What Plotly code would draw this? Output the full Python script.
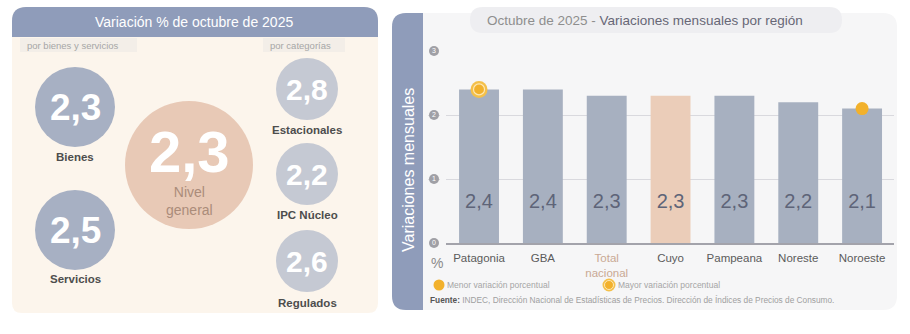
import plotly.graph_objects as go

W, H = 910, 334
FONT = "Liberation Sans"

# ---------------- data ----------------
regions = ["Patagonia", "GBA", "Total nacional", "Cuyo", "Pampeana", "Noreste", "Noroeste"]
region_values = [2.4, 2.4, 2.3, 2.3, 2.3, 2.2, 2.1]
highlight_region = "Cuyo"
y_ticks = [0, 1, 2, 3]
y_tick_labels = ["0", "1", "2", "3"]

summary_labels = ["Nivel general", "Bienes", "Servicios", "Estacionales", "IPC Núcleo", "Regulados"]
summary_values = [2.3, 2.3, 2.5, 2.8, 2.2, 2.6]

# ---------------- helpers ----------------
def X(px):
    return px / W

def Y(py):
    return 1 - py / H

def fmt(v):
    return f"{v:.1f}".replace(".", ",")

def rrect(x0, y0, x1, y1, rtl, rtr, rbr, rbl):
    p = []
    p.append(f"M {X(x0 + rtl)},{Y(y0)}")
    p.append(f"L {X(x1 - rtr)},{Y(y0)}")
    p.append(f"Q {X(x1)},{Y(y0)} {X(x1)},{Y(y0 + rtr)}")
    p.append(f"L {X(x1)},{Y(y1 - rbr)}")
    p.append(f"Q {X(x1)},{Y(y1)} {X(x1 - rbr)},{Y(y1)}")
    p.append(f"L {X(x0 + rbl)},{Y(y1)}")
    p.append(f"Q {X(x0)},{Y(y1)} {X(x0)},{Y(y1 - rbl)}")
    p.append(f"L {X(x0)},{Y(y0 + rtl)}")
    p.append(f"Q {X(x0)},{Y(y0)} {X(x0 + rtl)},{Y(y0)} Z")
    return " ".join(p)

shapes = []
annotations = []

def add_rrect(x0, y0, x1, y1, r, color, rb=None, rl=True, rr=True):
    rb = r if rb is None else rb
    shapes.append(dict(type="path", xref="paper", yref="paper", layer="below",
                       path=rrect(x0, y0, x1, y1, r if rl else 0, r if rr else 0,
                                  rb if rr else 0, rb if rl else 0),
                       fillcolor=color, line=dict(width=0)))

def add_circle(cx, cy, r, color, layer="below"):
    shapes.append(dict(type="circle", xref="paper", yref="paper", layer=layer,
                       x0=X(cx - r), x1=X(cx + r), y0=Y(cy + r), y1=Y(cy - r),
                       fillcolor=color, line=dict(width=0)))

def add_text(x, y, text, size, color, bold=False, xanchor="center", angle=0):
    if bold:
        text = f"<b>{text}</b>"
    annotations.append(dict(xref="paper", yref="paper", x=X(x), y=Y(y), text=text,
                            showarrow=False, xanchor=xanchor, yanchor="middle",
                            textangle=angle,
                            font=dict(family=FONT, size=size, color=color)))

# ---------------- left panel ----------------
add_rrect(12, 7, 378, 313, 14, "#fcf5ec", rb=10)
add_rrect(12, 7, 378, 37, 14, "#8f9cba", rb=0)
add_text(194, 22, "Variación % de octubre de 2025", 14, "white")
add_rrect(20, 38, 137, 52, 0, "#f3eee8")
add_rrect(263, 38, 345, 52, 0, "#f3eee8")
add_text(25, 45.5, "por bienes y servicios", 9.5, "#a6a6a6", xanchor="left")
add_text(268, 45.5, "por categorías", 9.5, "#a6a6a6", xanchor="left")

# circle layout: (cx, cy, r, fill, number size, label y)
circle_layout = {
    "Nivel general": (189, 165, 64, "#e8c9b6", 58, None),
    "Bienes": (75, 107, 40, "#a7b0c3", 37, 157),
    "Servicios": (75, 230, 40, "#a7b0c3", 37, 279),
    "Estacionales": (307, 89, 31, "#c5c9d3", 30, 130),
    "IPC Núcleo": (307, 174, 31, "#c5c9d3", 30, 215),
    "Regulados": (307, 261, 31, "#c5c9d3", 30, 303),
}
for lab, val in zip(summary_labels, summary_values):
    cx, cy, r, col, fs, ly = circle_layout[lab]
    add_circle(cx, cy, r, col)
    if ly is None:
        add_text(cx, cy - 14, fmt(val), fs, "white", bold=True)
        add_text(cx, cy + 36, lab.replace(" ", "<br>"), 14, "#ab8c7a")
    else:
        add_text(cx, cy, fmt(val), fs, "white", bold=True)
        add_text(cx, ly, lab, 11.5, "#4d4d4d", bold=True)

# ---------------- right panel ----------------
add_rrect(392, 13, 897, 310, 14, "#f6f6f7")
add_rrect(392, 13, 423, 310, 14, "#8f9cba", rr=False)
add_rrect(470, 7, 842, 33, 13, "#eeeef1")
annotations.append(dict(xref="paper", yref="paper", x=X(645), y=Y(20), showarrow=False,
                        xanchor="center", yanchor="middle",
                        text="<span style='color:#8e8e8e'>Octubre de 2025 - </span>"
                             "<span style='color:#676776'>Variaciones mensuales por región</span>",
                        font=dict(family=FONT, size=13.5)))
add_text(408, 170, "Variaciones mensuales", 16, "white", angle=-90)
add_text(437, 263, "%", 14, "#8a8a8a")

# manual legend
add_circle(439, 285, 5.5, "#f2b12c", layer="above")
add_text(445, 285, "Menor variación porcentual", 8.5, "#a5a5a5", xanchor="left")
add_circle(609, 285, 6.5, "#f4c04a", layer="above")
shapes.append(dict(type="circle", xref="paper", yref="paper", layer="above",
                   x0=X(604.5), x1=X(613.5), y0=Y(289.5), y1=Y(280.5),
                   fillcolor="#f2b12c", line=dict(width=1, color="#fde7b4")))
add_text(616, 285, "Mayor variación porcentual", 8.5, "#a5a5a5", xanchor="left")
add_text(428, 300, "<span style='color:#555'><b>Fuente:</b></span> INDEC, Dirección Nacional de "
         "Estadísticas de Precios. Dirección de Índices de Precios de Consumo.",
         8.3, "#a0a0a0", xanchor="left")

# ---------------- bars ----------------
bar_colors = ["#ebcdb9" if r == highlight_region else "#a7b0c0" for r in regions]
fig = go.Figure()
fig.add_trace(go.Bar(x=regions, y=region_values, marker=dict(color=bar_colors, line=dict(width=0)),
                     hoverinfo="x+y", showlegend=False))

LABEL_Y = 0.62
fig.add_trace(go.Scatter(x=regions, y=[LABEL_Y] * len(regions), mode="text",
                         text=[fmt(v) for v in region_values],
                         textfont=dict(family=FONT, size=20, color="#5e6478"),
                         hoverinfo="skip", showlegend=False))

imax = region_values.index(max(region_values))
imin = len(region_values) - 1 - region_values[::-1].index(min(region_values))
fig.add_trace(go.Scatter(x=[regions[imax]], y=[region_values[imax]], mode="markers",
                         marker=dict(size=17, color="#f4c04a", line=dict(width=0)),
                         hoverinfo="skip", showlegend=False, cliponaxis=False))
fig.add_trace(go.Scatter(x=[regions[imax]], y=[region_values[imax]], mode="markers",
                         marker=dict(size=11, color="#f2b12c", line=dict(width=1.2, color="#fde7b4")),
                         name="Mayor variación porcentual", showlegend=False, cliponaxis=False))
fig.add_trace(go.Scatter(x=[regions[imin]], y=[region_values[imin]], mode="markers",
                         marker=dict(size=13, color="#f2b12c", line=dict(width=0)),
                         name="Menor variación porcentual", showlegend=False, cliponaxis=False))

# y tick badges: gray circles with white numbers, positioned by the y scale
fig.add_trace(go.Scatter(x=[6] * len(y_ticks), y=y_ticks, xaxis="x2", yaxis="y",
                         mode="markers+text", text=y_tick_labels, textposition="middle center",
                         textfont=dict(family=FONT, size=7, color="white"),
                         marker=dict(size=10, color="#a0a0a6", line=dict(width=0)),
                         cliponaxis=False, hoverinfo="skip", showlegend=False))

ticktext = []
for r in regions:
    if r == "Total nacional":
        ticktext.append("<span style='color:#c9a994'>Total</span><br>"
                        "<span style='color:#c9a994'>nacional</span>")
    else:
        ticktext.append(r)

TOP = 3.005
fig.update_layout(
    width=W, height=H,
    margin=dict(l=0, r=0, t=0, b=0),
    paper_bgcolor="white",
    plot_bgcolor="rgba(0,0,0,0)",
    bargap=0.375,
    showlegend=False,
    font=dict(family=FONT),
    xaxis=dict(domain=[X(446), X(894)], tickmode="array", tickvals=regions, ticktext=ticktext,
               tickfont=dict(family=FONT, size=11.5, color="#5b5b5b"),
               ticklabelstandoff=3,
               showgrid=False, showline=True, linecolor="#a3a3ab", linewidth=1.5,
               ticks="", fixedrange=True),
    xaxis2=dict(domain=[X(428), X(440)], range=[0, 12], anchor="y", visible=False,
                fixedrange=True),
    yaxis=dict(domain=[Y(243), Y(243 - TOP * 64)], range=[0, TOP], tickvals=y_ticks,
               showticklabels=False,
               showgrid=True, gridcolor="#d9d9de", gridwidth=1.2, zeroline=False,
               ticks="", fixedrange=True),
    shapes=shapes,
    annotations=annotations,
)

fig.write_html("out.html")
